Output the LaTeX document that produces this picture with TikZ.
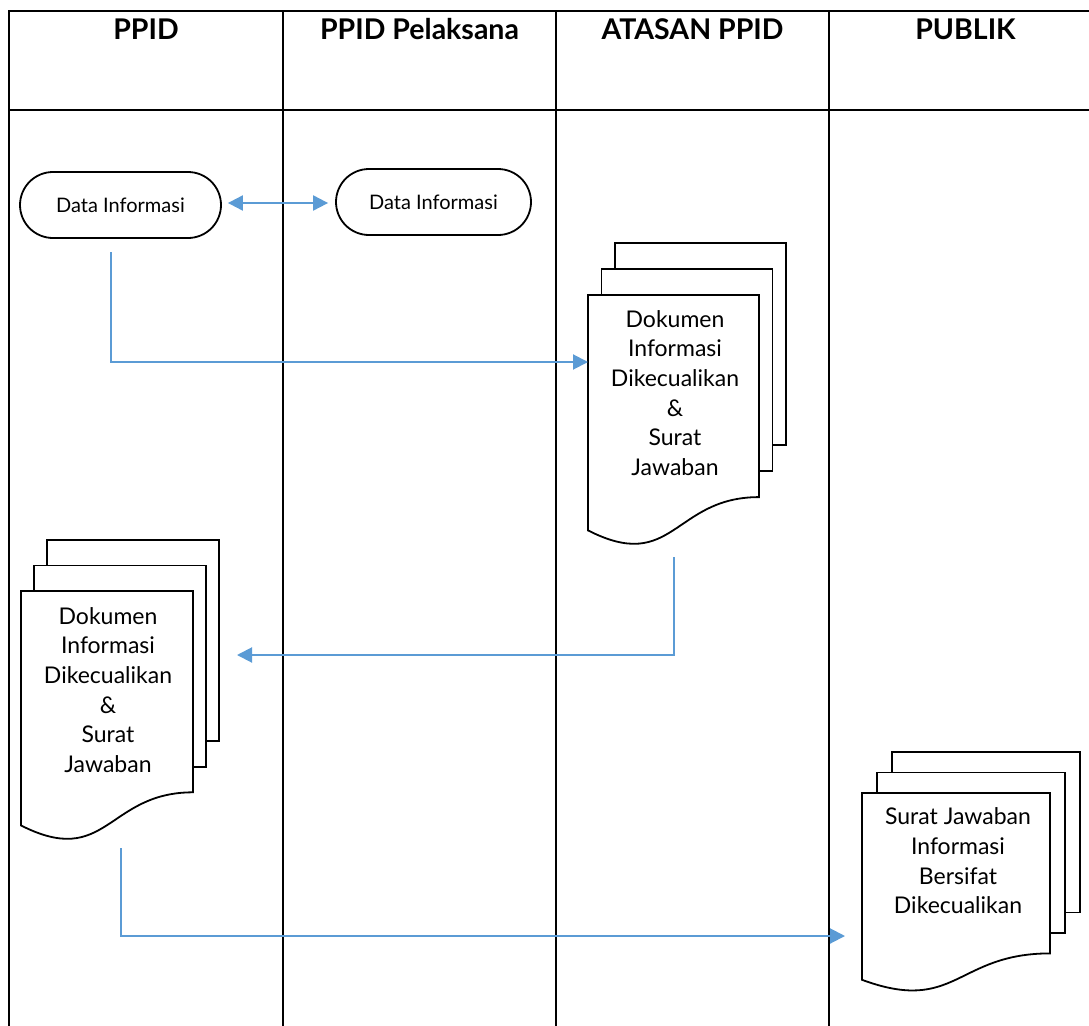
\documentclass[tikz,border=0pt]{standalone}
\usepackage{fontspec}
\setmainfont{Lato}
\usetikzlibrary{arrows.meta}
\definecolor{flowblue}{HTML}{5B9BD5}
\tikzset{
  grid/.style={line width=2pt, black},
  shapeline/.style={line width=1.8pt, black, fill=white, line join=miter},
  term/.style={draw, line width=1.8pt, rounded corners=33pt, minimum height=66pt, inner sep=0pt, font=\fontsize{20}{24}\selectfont},
  head/.style={font=\bfseries\fontsize{28.5}{32}\selectfont, anchor=base},
  doctext/.style={align=center, font=\fontsize{23}{29.6}\selectfont, inner sep=0pt},
  conn/.style={draw=flowblue, line width=2pt, -{Triangle[length=15pt,width=15pt]}},
  conn2/.style={draw=flowblue, line width=2pt, {Triangle[length=15pt,width=15pt]}-{Triangle[length=15pt,width=15pt]}}
}
% #1 L, #2 T, #3 W, #4 H, #5 dx, #6 dy
\newcommand{\mystack}[6]{%
  \filldraw[shapeline] ({#1+2*#5},{#2-2*#6}) rectangle ({#1+#3+2*#5},{#2-2*#6+0.802*#4});
  \filldraw[shapeline] ({#1+#5},{#2-#6}) rectangle ({#1+#3+#5},{#2-#6+0.802*#4});
  \filldraw[shapeline] ({#1},{#2}) -- ({#1+#3},{#2}) -- ({#1+#3},{#2+0.802*#4})
     .. controls ({#1+0.5*#3},{#2+0.802*#4}) and ({#1+0.5*#3},{#2+1.1075*#4}) .. ({#1},{#2+0.934*#4}) -- cycle;
}
\begin{document}
\begin{tikzpicture}[x=1pt,y=-1pt]
\useasboundingbox (0,0) rectangle (1089,1025);
% table grid
\draw[grid] (9,1026) -- (9,11) -- (1100,11);
\draw[grid] (9,110) -- (1100,110);
\draw[grid] (283,11) -- (283,1026);
\draw[grid] (556,11) -- (556,1026);
\draw[grid] (829,11) -- (829,1026);
% headers
\node[head] (h1) at (146,40) {PPID};
\node[head] (h2) at (419.5,40) {PPID Pelaksana};
\node[head] (h3) at (692.5,40) {ATASAN PPID};
\node[head] (h4) at (965.5,40) {PUBLIK};
% terminators
\node[term, minimum width=201pt] (t1) at (120.5,205) {Data Informasi};
\node[term, minimum width=195pt] (t2) at (433.5,202) {Data Informasi};
\draw[conn2] ([xshift=6pt,yshift=2pt]t1.east) -- ([xshift=-7pt,yshift=-1pt]t2.west);
% document stacks
\mystack{588}{295}{171}{252}{13.5}{26}
\node[doctext] (d1) at (675,393) {Dokumen\\Informasi\\Dikecualikan\\\&\\Surat\\Jawaban};
\mystack{21}{591}{172}{251}{13}{25.5}
\node[doctext] (d2) at (108,690) {Dokumen\\Informasi\\Dikecualikan\\\&\\Surat\\Jawaban};
\mystack{862}{793}{188}{200}{15}{20.5}
\node[doctext] (d3) at (958,861) {Surat Jawaban\\Informasi\\Bersifat\\Dikecualikan};
% connectors
\coordinate (s1) at (111,252);
\coordinate (e1) at (588,362);
\draw[conn] (s1) |- (e1);
\coordinate (s2) at (674,557);
\coordinate (e2) at (237,655);
\draw[conn] (s2) |- (e2);
\coordinate (s3) at (121,848);
\coordinate (e3) at (845,936);
\draw[conn] (s3) |- (e3);
\end{tikzpicture}
\end{document}
